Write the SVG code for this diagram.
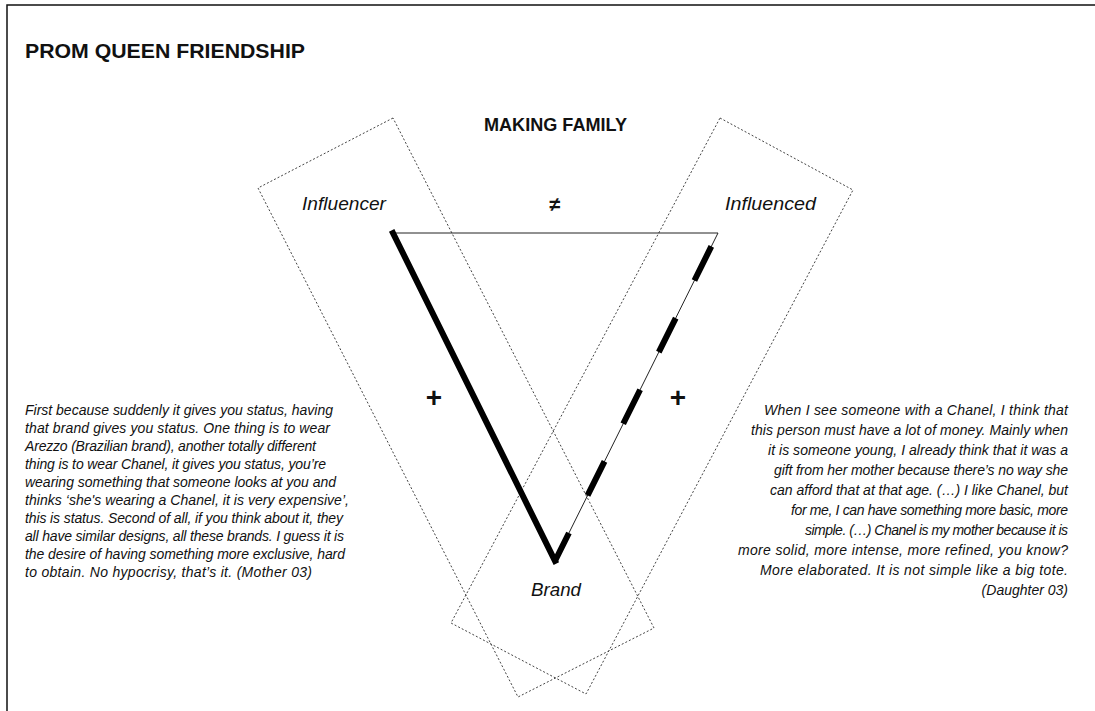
<svg xmlns="http://www.w3.org/2000/svg" width="1095" height="711" viewBox="0 0 1095 711">
<style>
.bold{font-family:"Liberation Sans",Arial,sans-serif;font-weight:bold;fill:#111}
.lbl{font-family:"Liberation Sans",Arial,sans-serif;font-style:italic;font-size:18px;fill:#111}
.q{font-family:"Liberation Sans",Arial,sans-serif;font-style:italic;font-size:14px;fill:#111}
.dot{fill:none;stroke:#444;stroke-width:1;stroke-dasharray:2 2}
</style>
<rect width="1095" height="711" fill="#fff"/>
<path d="M7 711 V5 H1095" fill="none" stroke="#111" stroke-width="1.5"/>
<text id="title" class="bold" x="25" y="58" font-size="21" textLength="280" lengthAdjust="spacingAndGlyphs">PROM QUEEN FRIENDSHIP</text>
<text id="subtitle" class="bold" x="555.5" y="131" font-size="17.5" text-anchor="middle" textLength="143" lengthAdjust="spacingAndGlyphs">MAKING FAMILY</text>
<g id="frames">
<polygon class="dot" points="393,118 258,188 518,697 654,628"/>
<polygon class="dot" points="720,118 853,190 586,694 451,623"/>
</g>
<g id="connectors">
<line x1="393" y1="233" x2="718" y2="233" stroke="#222" stroke-width="1"/>
<polyline points="393,233 555,561" fill="none" stroke="#000" stroke-width="6" stroke-linecap="square"/>
<line x1="718" y1="233" x2="555" y2="561" stroke="#222" stroke-width="1"/>
<line x1="718" y1="233" x2="555" y2="561" stroke="#000" stroke-width="6" stroke-dasharray="38 42" stroke-dashoffset="65"/>
<text id="neq" class="bold" x="555" y="211" font-size="20" text-anchor="middle">≠</text>
<text id="plus-left" class="bold" x="434" y="407" font-size="28" text-anchor="middle">+</text>
<text id="plus-right" class="bold" x="678" y="407" font-size="28" text-anchor="middle">+</text>
</g>
<g id="node-influencer"><text class="lbl" x="302" y="210" textLength="84" lengthAdjust="spacingAndGlyphs">Influencer</text></g>
<g id="node-influenced"><text class="lbl" x="725" y="210" textLength="91" lengthAdjust="spacingAndGlyphs">Influenced</text></g>
<g id="node-brand"><text class="lbl" x="531" y="596" textLength="50" lengthAdjust="spacingAndGlyphs">Brand</text></g>
<g id="quote-mother" class="q">
<text x="25" y="415" textLength="308">First because suddenly it gives you status, having</text>
<text x="25" y="433" textLength="305">that brand gives you status. One thing is to wear</text>
<text x="25" y="451" textLength="291">Arezzo (Brazilian brand), another totally different</text>
<text x="25" y="469" textLength="301">thing is to wear Chanel, it gives you status, you’re</text>
<text x="25" y="487" textLength="311">wearing something that someone looks at you and</text>
<text x="25" y="505" textLength="324">thinks ‘she's wearing a Chanel, it is very expensive’,</text>
<text x="25" y="523" textLength="318">this is status. Second of all, if you think about it, they</text>
<text x="25" y="541" textLength="319">all have similar designs, all these brands. I guess it is</text>
<text x="25" y="559" textLength="320">the desire of having something more exclusive, hard</text>
<text x="25" y="577" textLength="287">to obtain. No hypocrisy, that’s it. (Mother 03)</text>
</g>
<g id="quote-daughter" class="q" text-anchor="end">
<text x="1068" y="415" textLength="304">When I see someone with a Chanel, I think that</text>
<text x="1068" y="435" textLength="317">this person must have a lot of money. Mainly when</text>
<text x="1068" y="455" textLength="300">it is someone young, I already think that it was a</text>
<text x="1068" y="475" textLength="294">gift from her mother because there’s no way she</text>
<text x="1068" y="495" textLength="298">can afford that at that age. (…) I like Chanel, but</text>
<text x="1068" y="515" textLength="277">for me, I can have something more basic, more</text>
<text x="1068" y="535" textLength="263">simple. (…) Chanel is my mother because it is</text>
<text x="1068" y="555" textLength="330">more solid, more intense, more refined, you know?</text>
<text x="1068" y="575" textLength="308">More elaborated. It is not simple like a big tote.</text>
<text x="1068" y="595">(Daughter 03)</text>
</g>
</svg>
